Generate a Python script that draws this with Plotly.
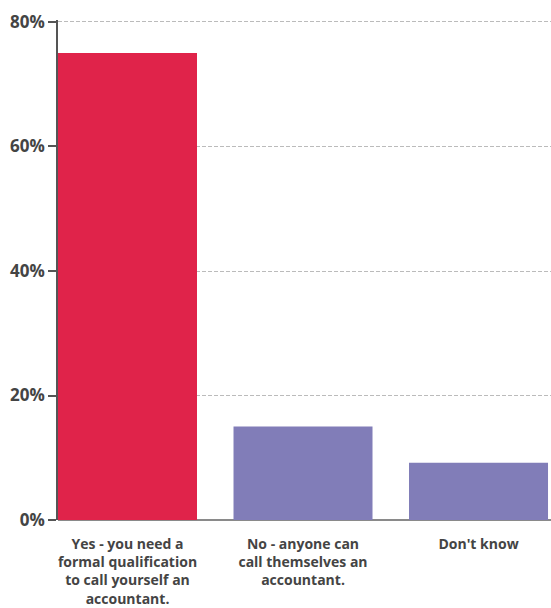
import plotly.graph_objects as go

# Survey answers and share of respondents (%)
categories = [
    "Yes - you need a<br>formal qualification<br>to call yourself an<br>accountant.",
    "No - anyone can<br>call themselves an<br>accountant.",
    "Don't know",
]
shares = [75, 15, 9.2]
bar_colors = ["#E0234A", "#817DB8", "#817DB8"]
y_ticks = [0, 20, 40, 60, 80]
y_tick_text = ["0%", "20%", "40%", "60%", "80%"]

fig = go.Figure(
    go.Bar(
        x=[0, 1, 2],
        y=shares,
        marker=dict(color=bar_colors, line=dict(width=0)),
        hoverinfo="skip",
    )
)

fig.update_layout(
    width=551,
    height=608,
    margin=dict(l=58, r=0, t=20, b=88, autoexpand=False),
    paper_bgcolor="white",
    plot_bgcolor="white",
    bargap=0.208,
    showlegend=False,
    font=dict(family="Open Sans", color="#444444"),
)

fig.update_xaxes(
    range=[-0.396, 2.413],
    tickmode="array",
    tickvals=[0, 1, 2],
    ticktext=categories,
    ticks="",
    ticklabelstandoff=14,
    automargin=False,
    showgrid=False,
    zeroline=False,
    showline=False,
    tickfont=dict(family="Open Sans", size=14, color="#444444", weight="bold"),
)

fig.update_yaxes(
    range=[0, 80.32],
    tickmode="array",
    tickvals=y_ticks,
    ticktext=y_tick_text,
    ticks="outside",
    ticklen=8,
    tickwidth=1.5,
    tickcolor="#555555",
    automargin=False,
    showline=True,
    linecolor="#555555",
    linewidth=1.5,
    showgrid=True,
    gridcolor="#BBBBBB",
    griddash="4px,2px",
    gridwidth=1,
    zeroline=True,
    zerolinecolor="#8A8A8A",
    zerolinewidth=2,
    tickfont=dict(family="Open Sans", size=17, color="#444444", weight="bold"),
)

fig.write_html("out.html")
